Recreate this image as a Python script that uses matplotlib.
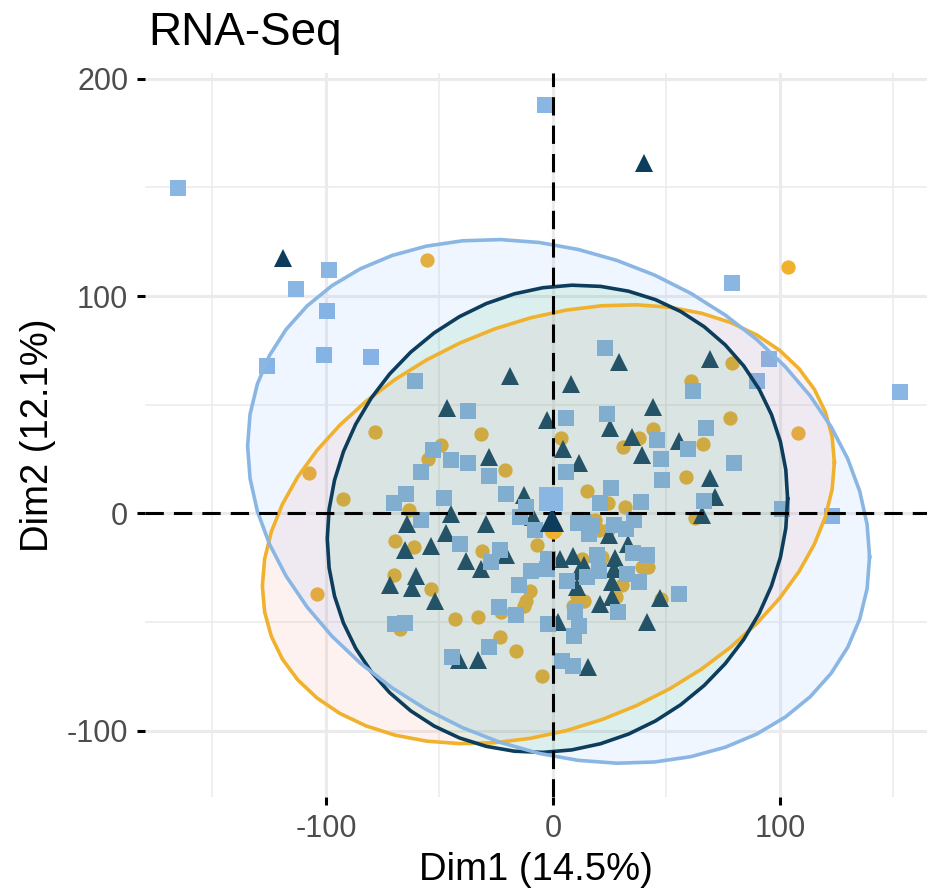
import numpy as np
import matplotlib
matplotlib.use('Agg')
import matplotlib.pyplot as plt

plt.rcParams['font.family'] = ['Liberation Sans', 'DejaVu Sans']
plt.rcParams['axes.unicode_minus'] = False

# Dim1 / Dim2 scores, one array per group
circle_pts = np.array([
    (-55.6, 116.6), (103.6, 113.4), (108, 37), (-104, -37),
    (-78.4, 37.5), (-31.7, 36.4), (-49.5, 31.3), (-55, 25.2), (-20.9, 19.8),
    (-107.6, 18.6), (-92.4, 6.8), (-63.2, 1.4),
    (-69.5, -12.9), (-61.3, -15.5), (-31.4, -17.5), (-7.2, -14.4), (-9.9, -35.5),
    (-11.7, -40.1), (-12.9, -42.4), (-22.8, -45.5), (-70.2, -28.3), (-53.9, -34.7),
    (-67.2, -53.1), (-43.1, -48.5), (-33.2, -47.8), (-23.1, -57), (-16.1, -63.5),
    (-4.8, -74.7),
    (78.7, 69), (60.9, 60.8), (77.9, 44.1), (43.9, 39), (3.6, 34.7), (37.9, 34.7),
    (30.8, 30.6), (66.1, 32.1), (58.7, 16.7), (15, 10.3), (24.3, 4.9), (31.6, 2.9),
    (62.4, -2),
    (18.7, -3.2), (20.1, -7.8), (24.3, -7.8), (21.6, -20.1), (12.8, -20.9),
    (39.4, -24.7), (42.1, -24.7), (30.5, -32.9), (10.5, -37.8), (9, -42.4),
    (13.5, -40.1), (27.6, -38.6), (47.6, -39.3),
])

square_pts = np.array([
    (-165.3, 149.8), (-3.6, 188), (-125.8, 67.7), (-113, 103), (-98.7, 112),
    (-99.6, 93), (-101, 73), (-80, 72), (79, 106), (153, 56), (95, 71), (90, 61),
    (101, 2), (123, -1),
    (-60.6, 61), (-37.6, 47), (-52.7, 29), (-45, 24.7), (-37.6, 23.2), (-58, 18.8),
    (-28, 17.2), (-70.2, 4.7), (-64.6, 8.8), (-48, 7), (-20.6, 9), (-11.7, 2.9),
    (-58, -3.2), (-14.7, -1.7),
    (-40.9, -14.3), (-27.3, -22.4), (-23.2, -17), (-8, -7.8), (-9.5, -26.3),
    (-2.8, -25.5), (-2, -20.9), (-15, -32.9), (-23.6, -43.2), (-16.4, -46.7),
    (-69.5, -50.8), (-65.3, -50.4), (-28, -61.3), (-44.6, -65.9), (-2, -50.8),
    (22.8, 75.9), (61.6, 56.4), (5.8, 43.9), (24, 45.6), (67.6, 39.5), (45.8, 33.6),
    (59.4, 29.5), (47.6, 25.2), (79.7, 23.2), (5.6, 18.8), (47.9, 15.5),
    (25.8, 11.8), (66.4, 5.7), (39, 5.2), (20.6, 4.7),
    (13.5, -4), (15.7, -9.4), (26.8, -5.5), (32, -7.1), (35.7, -3.2), (11, -4.5),
    (17, -6), (19.4, -19), (35.3, -18.1), (41.6, -19), (20.1, -26.7), (15, -29.4),
    (32.7, -27.8), (37.9, -31.7), (6.1, -31.3), (9.8, -45.5), (28.8, -45.5),
    (55.7, -37), (11.3, -51.6), (9.5, -56.2), (4.1, -67.7), (9, -70),
])

triangle_pts = np.array([
    (-118.7, 117.5), (40, 161),
    (-19, 63), (-46.5, 48.7), (-2.8, 42.9), (-28.3, 26), (-12.7, 8.3),
    (-44.8, -0.1), (-64.3, -5), (-29.5, -5), (-8.9, -1.5),
    (-65, -16.7), (-53.5, -15.1), (-47.2, -8.9), (-38.4, -21.7), (-31.7, -25.8),
    (-20.6, -19), (-60.3, -28.6), (-71.7, -32.9), (-62, -34.4), (-52, -40.1),
    (-41.3, -67.3), (-32.8, -67.3),
    (29, 69.7), (8, 59.4), (69, 70.8), (44.1, 49), (25.3, 39.5), (4.6, 29.8),
    (34.7, 35.2), (39.1, 26.7), (55.7, 33.3), (11.3, 23.2), (69, 16.3), (71.3, 7.5),
    (65.6, -0.9),
    (24.6, -10.1), (33.2, -14), (9, -19.4), (3.1, -20.9), (13.9, -23.6),
    (27.2, -20.6), (26.8, -25.5), (11.3, -26.3), (26.1, -31.7), (10.5, -34),
    (20.9, -41.6), (26.1, -38.6), (47.2, -39), (41.3, -49.8), (2.4, -50.1),
    (15.4, -70.8),
])

# group means (circle, triangle, square)
group_means = np.array([(0, -7.7), (-0.4, -3.1), (-0.9, 6.8)])

# concentration ellipses: centre, sd along Dim1 / Dim2, covariance
ell_center = np.array([(-2, -5), (2, -2.5), (2.5, 5.5)])
ell_sd = np.array([(126, 101), (101.4, 107.5), (137, 120.5)])
ell_cov = np.array([3580, 930, -3500])

point_cols = ['#F0B12C', '#0D3D5C', '#8AB6E4']
fill_cols = ['#F8766D', '#00BA38', '#619CFF']
markers = ['o', '^', 's']
msizes = [10.3, 13.0, 11.3]
groups = [circle_pts, triangle_pts, square_pts]


def ellipse_path(center, sd, cov, n=51):
    S = np.array([[sd[0] ** 2, cov], [cov, sd[1] ** 2]])
    L = np.linalg.cholesky(S)
    t = np.linspace(0, 2 * np.pi, n)
    circ = np.vstack([np.cos(t), np.sin(t)])
    pts = L @ circ
    return center[0] + pts[0], center[1] + pts[1]


W, H = 927, 890
fig = plt.figure(figsize=(W / 100, H / 100), dpi=100)
ax = fig.add_axes([145 / W, 93 / H, 782 / W, 724 / H])

for pts, col, mk, ms in zip(groups, point_cols, markers, msizes):
    ax.plot(pts[:, 0], pts[:, 1], linestyle='none', marker=mk, markersize=ms,
            color=col, markeredgewidth=0, zorder=3)

for i in range(3):
    ex, ey = ellipse_path(ell_center[i], ell_sd[i], ell_cov[i])
    ax.fill(ex, ey, color=fill_cols[i], alpha=0.09, lw=0, zorder=4)
    ax.plot(ex, ey, color=point_cols[i], lw=2.6, zorder=5)

ax.axhline(0, color='black', lw=2.2, ls=(0, (6, 3.3)), zorder=6)
ax.axvline(0, color='black', lw=2.2, ls=(0, (6, 3.3)), zorder=6)

mean_sizes = [13, 17, 17]
for (mx, my), col, mk, ms in zip(group_means, point_cols, markers, mean_sizes):
    ax.plot(mx, my, marker=mk, markersize=ms, color=col, markeredgewidth=0,
            linestyle='none', zorder=7)

ax.set_xlim(-179.7, 164.8)
ax.set_ylim(-130.5, 202.6)
ax.set_xticks([-100, 0, 100])
ax.set_yticks([-100, 0, 100, 200])
ax.set_xticks([-150, -50, 50, 150], minor=True)
ax.set_yticks([-50, 50, 150], minor=True)
ax.grid(which='major', color='#EBEBEB', lw=2.2, zorder=0)
ax.grid(which='minor', color='#EBEBEB', lw=1.1, zorder=0)
ax.set_axisbelow(True)
for s in ax.spines.values():
    s.set_visible(False)
ax.tick_params(which='major', length=6, width=2.2, color='black',
               labelsize=22, labelcolor='#4D4D4D', pad=6)
ax.tick_params(which='minor', length=0)

ax.set_xlabel('Dim1 (14.5%)', fontsize=27.5, labelpad=6)
ax.set_ylabel('Dim2 (12.1%)', fontsize=27.5, labelpad=8)
fig.text(148 / W, 1 - 33 / H, 'RNA-Seq', fontsize=33, va='center', ha='left')

fig.savefig('out.png', dpi=100)
